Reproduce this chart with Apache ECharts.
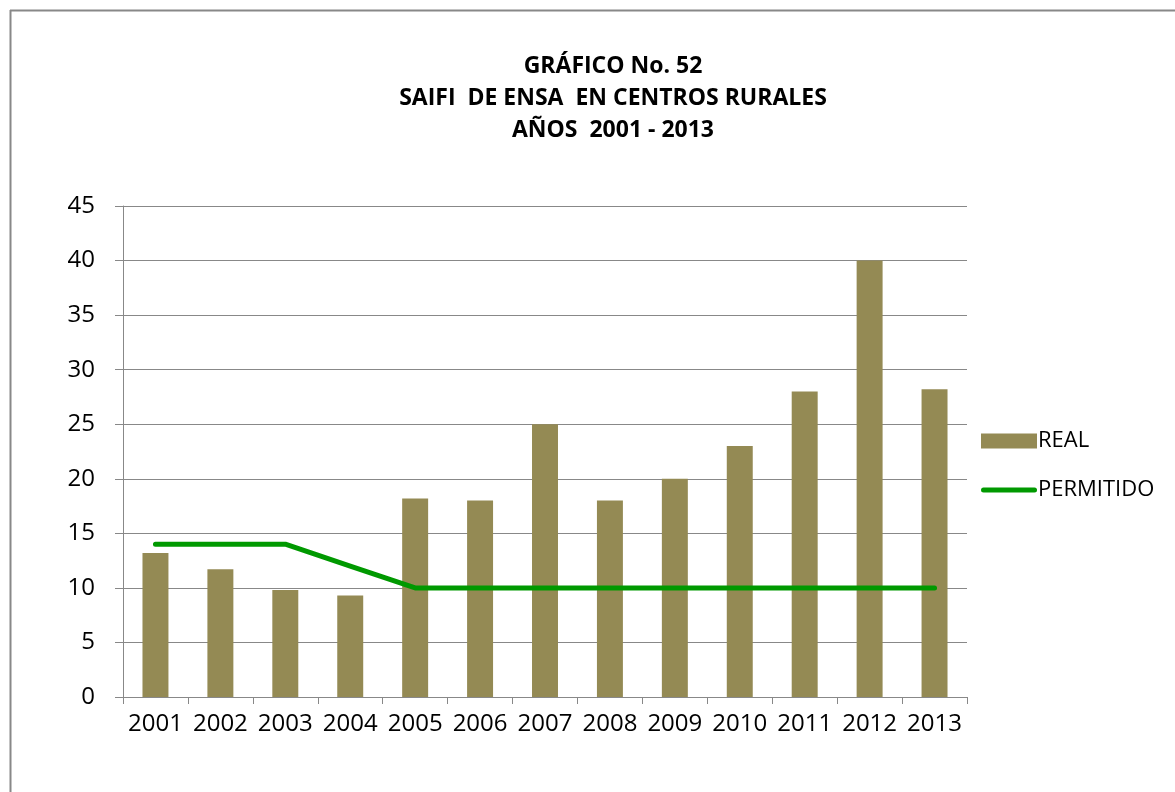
<!DOCTYPE html>
<html><head><meta charset="utf-8">
<script src="https://cdn.jsdelivr.net/npm/echarts@6/dist/echarts.min.js"></script>
<style>html,body{margin:0;padding:0;background:#fff}#c{width:1175px;height:792px}</style>
</head><body><div id="c"></div>
<script>
const years = ['2001','2002','2003','2004','2005','2006','2007','2008','2009','2010','2011','2012','2013'];
const real = [13.2, 11.7, 9.8, 9.3, 18.2, 18.0, 25.0, 18.0, 20.0, 23.0, 28.0, 40.0, 28.2];
const permitido = [14, 14, 14, 12, 10, 10, 10, 10, 10, 10, 10, 10, 10];
const titleLines = ['GRÁFICO No. 52', 'SAIFI  DE ENSA  EN CENTROS RURALES', 'AÑOS  2001 - 2013'];

const chart = echarts.init(document.getElementById('c'));
const font = 'Open Sans, Liberation Sans, sans-serif';
chart.setOption({
  animation: false,
  backgroundColor: '#fff',
  title: {
    text: titleLines.join('\n'),
    left: 608, top: 45, textAlign: 'center',
    textStyle: {fontFamily: font, fontSize: 23, fontWeight: 'bold', color: '#000', lineHeight: 32}
  },
  graphic: [
    {type: 'line', shape: {x1: 10, y1: 10.5, x2: 1175, y2: 10.5}, style: {stroke: '#888', lineWidth: 2}},
    {type: 'line', shape: {x1: 10.5, y1: 10, x2: 10.5, y2: 792}, style: {stroke: '#888', lineWidth: 2}}
  ],
  legend: {
    orient: 'vertical', left: 976, top: 425, itemGap: 27,
    itemWidth: 56, itemHeight: 15,
    textStyle: {fontFamily: font, fontSize: 22, color: '#000', padding: [0,0,0,-4]},
    data: [
      {name: 'REAL', icon: 'rect'},
      {name: 'PERMITIDO', icon: 'path://M2.5,0 L53.5,0 A2.5,2.5 0 0 1 53.5,5 L2.5,5 A2.5,2.5 0 0 1 2.5,0 Z', itemStyle: {color: '#009900'}}
    ]
  },
  grid: {left: 123, right: 208, top: 206, bottom: 95},
  xAxis: {
    type: 'category', data: years,
    axisLine: {lineStyle: {color: '#888', width: 1}},
    axisTick: {show: true, alignWithLabel: false, interval: 0, length: 7, lineStyle: {color: '#888'}},
    axisLabel: {fontFamily: font, fontSize: 24, color: '#000', margin: 15, interval: 0}
  },
  yAxis: {
    type: 'value', min: 0, max: 45, interval: 5,
    axisLine: {show: true, lineStyle: {color: '#888'}},
    axisTick: {show: true, length: 8, inside: false, lineStyle: {color: '#888'}},
    splitLine: {lineStyle: {color: '#888', width: 1}},
    axisLabel: {fontFamily: font, fontSize: 24, color: '#000', margin: 28}
  },
  series: [
    {name: 'REAL', type: 'bar', data: real, barWidth: '40%', itemStyle: {color: '#948A54'}},
    {name: 'PERMITIDO', type: 'line', data: permitido, symbol: 'none',
     lineStyle: {color: '#009900', width: 5, cap: 'round', join: 'round'}, itemStyle: {color: '#009900'}}
  ]
});
</script></body></html>
